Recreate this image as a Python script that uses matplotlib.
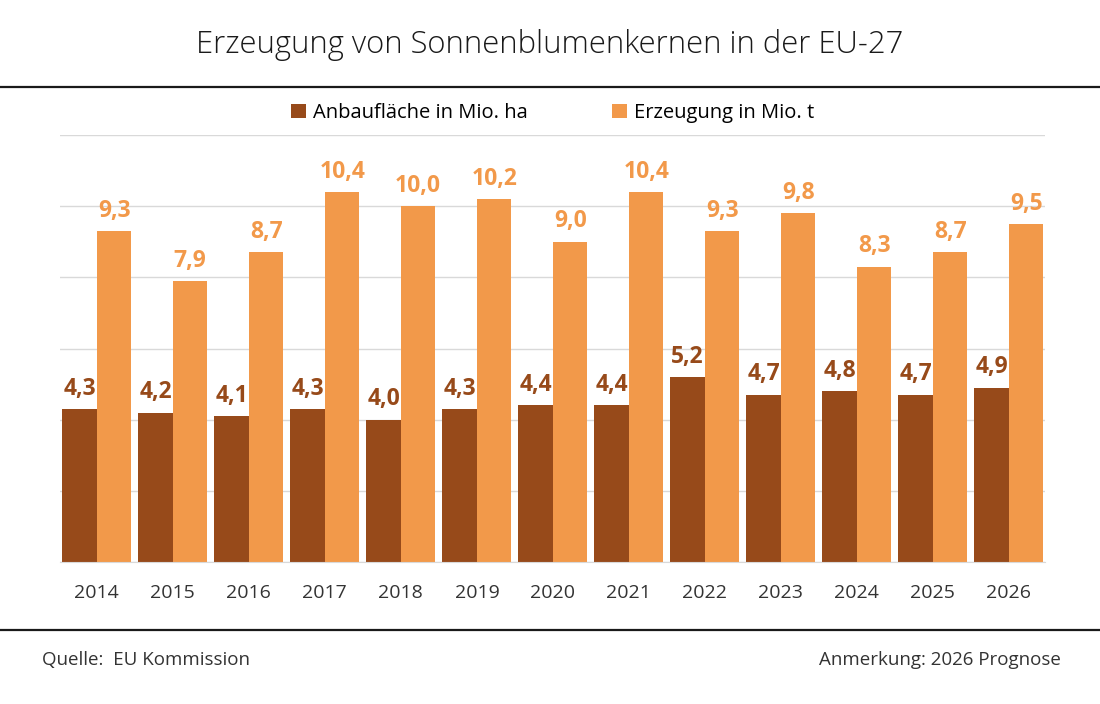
import matplotlib.pyplot as plt
import numpy as np

# Daten
jahre = ['2014', '2015', '2016', '2017', '2018', '2019', '2020',
         '2021', '2022', '2023', '2024', '2025', '2026']
flaeche = [4.3, 4.2, 4.1, 4.3, 4.0, 4.3, 4.4, 4.4, 5.2, 4.7, 4.8, 4.7, 4.9]
erzeugung = [9.3, 7.9, 8.7, 10.4, 10.0, 10.2, 9.0, 10.4, 9.3, 9.8, 8.3, 8.7, 9.5]

c_dunkel = '#974A1A'
c_hell = '#F2994A'
plt.rcParams['font.family'] = ['Open Sans', 'DejaVu Sans']

fig = plt.figure(figsize=(11, 7.04), dpi=100)
ax = fig.add_axes([60/1100, 1 - 562/704, 985/1100, 427/704])

x = np.arange(len(jahre))
w = 0.455
ax.bar(x - w/2, flaeche, w, color=c_dunkel, label='Anbaufläche in Mio. ha', zorder=2)
ax.bar(x + w/2, erzeugung, w, color=c_hell, label='Erzeugung in Mio. t', zorder=2)

# Beschriftungen ueber den Balken
for xi, v in zip(x, flaeche):
    ax.annotate(f'{v:.1f}'.replace('.', ','), (xi - w/2, v), xytext=(0, 6),
                textcoords='offset points', ha='center', va='bottom',
                fontsize=16.5, fontweight='bold', color=c_dunkel)
for xi, v in zip(x, erzeugung):
    ax.annotate(f'{v:.1f}'.replace('.', ','), (xi + w/2, v), xytext=(0, 6),
                textcoords='offset points', ha='center', va='bottom',
                fontsize=16.5, fontweight='bold', color=c_hell)

ax.set_xlim(-0.485, 12.475)
ax.set_ylim(0, 12)
ax.set_yticks(np.arange(0, 13, 2))
ax.yaxis.grid(True, color='#d9d9d9', linewidth=1, zorder=0)
ax.set_axisbelow(True)
ax.tick_params(axis='y', left=False, labelleft=False)
ax.tick_params(axis='x', length=0, pad=16, labelsize=14, labelcolor='#333333')
ax.set_xticks(x)
ax.set_xticklabels(jahre)
for s in ['top', 'right', 'left']:
    ax.spines[s].set_visible(False)
ax.spines['bottom'].set_color('#d9d9d9')

ax.legend(loc='lower center', bbox_to_anchor=(0.5, 1.0), ncol=2, frameon=False,
          fontsize=14.5, handlelength=0.75, handleheight=0.75, columnspacing=4.2,
          handletextpad=0.35, borderaxespad=0.2)

fig.text(0.5, 1 - 45/704, 'Erzeugung von Sonnenblumenkernen in der EU-27',
         ha='center', va='center', fontsize=22.3, fontweight='light', color='#1a1a1a')
fig.add_artist(plt.Line2D([0, 1], [1 - 87/704, 1 - 87/704], color='#1a1a1a', linewidth=1.6))
fig.add_artist(plt.Line2D([0, 1], [1 - 630/704, 1 - 630/704], color='#1a1a1a', linewidth=1.6))
fig.text(42/1100, 1 - 660/704, 'Quelle:  EU Kommission', ha='left', va='center',
         fontsize=13.5, color='#333333')
fig.text(1061/1100, 1 - 660/704, 'Anmerkung: 2026 Prognose', ha='right', va='center',
         fontsize=13.5, color='#333333')

fig.savefig('out.png', dpi=100)
